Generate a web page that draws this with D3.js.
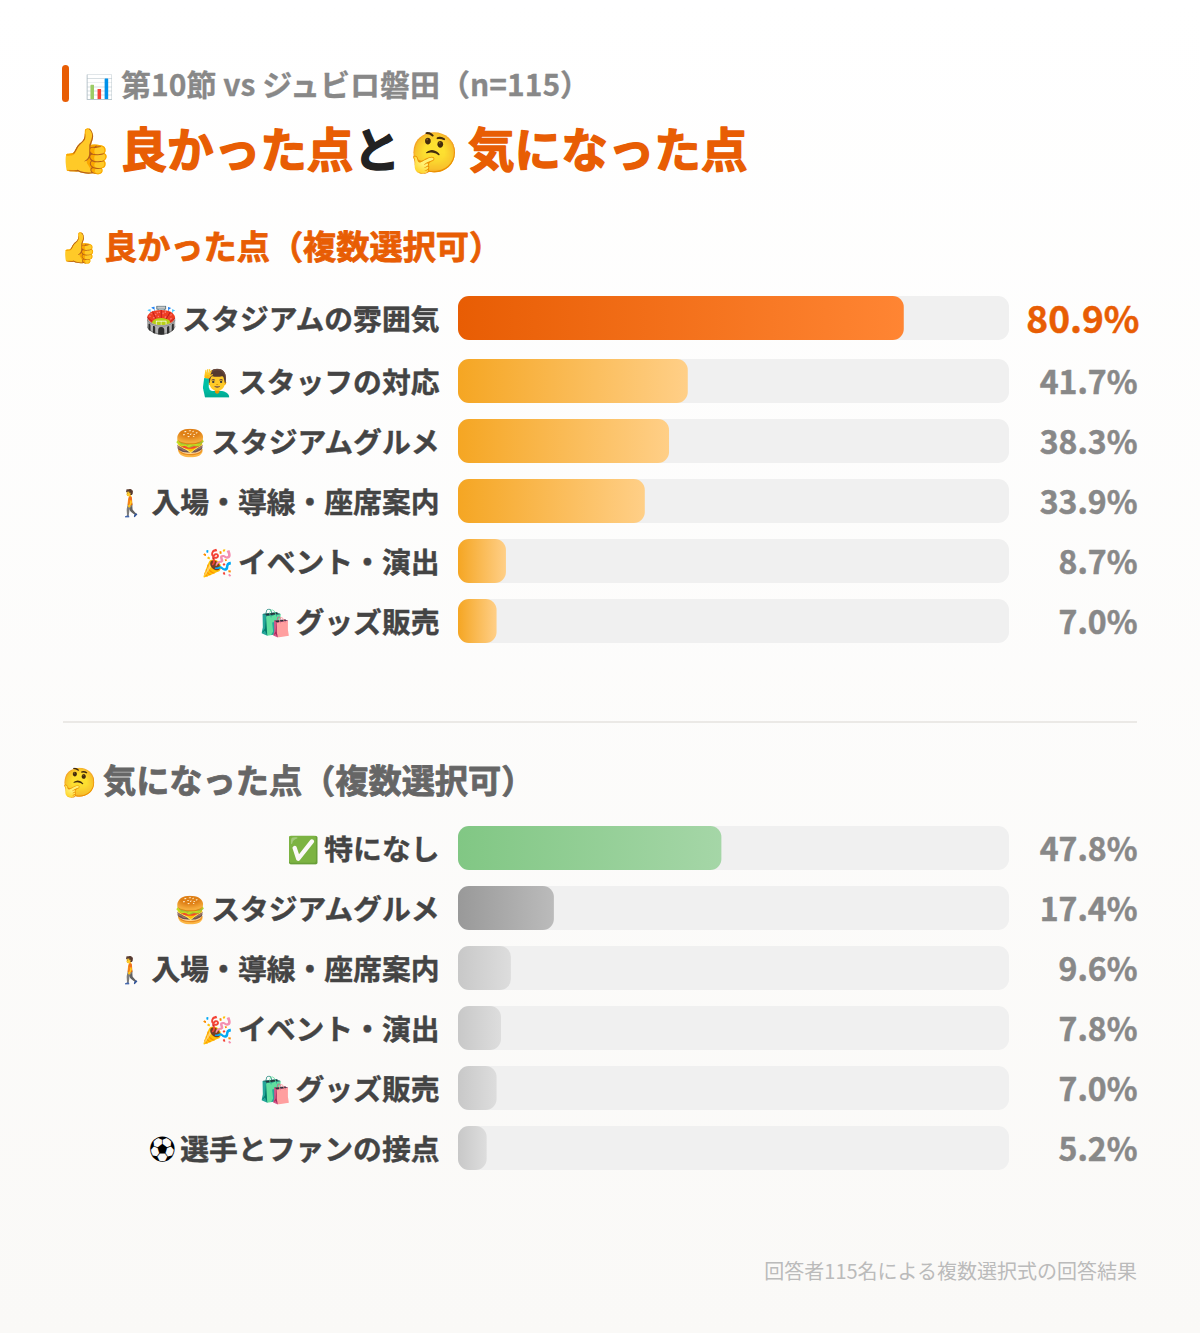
<!DOCTYPE html>
<html lang="ja">
<head>
<meta charset="UTF-8">
<title>良かった点と気になった点</title>
<script src="https://d3js.org/d3.v7.min.js"></script>
<style>
  html, body { margin: 0; padding: 0; background: #fff; }
  svg { display: block; }
  text { font-family: "Noto Sans CJK JP", "Noto Sans", sans-serif; }
  .heavy { paint-order: stroke; stroke-linejoin: round; }
</style>
</head>
<body>
<svg id="chart" width="1200" height="1333"></svg>
<script>
// data
const goodIcons = ["🏟️", "🙋‍♂️", "🍔", "🚶", "🎉", "🛍️"];
const goodLabels = ["スタジアムの雰囲気", "スタッフの対応", "スタジアムグルメ", "入場・導線・座席案内", "イベント・演出", "グッズ販売"];
const goodValues = [80.9, 41.7, 38.3, 33.9, 8.7, 7.0];
const badIcons = ["✅", "🍔", "🚶", "🎉", "🛍️", "⚽"];
const badLabels = ["特になし", "スタジアムグルメ", "入場・導線・座席案内", "イベント・演出", "グッズ販売", "選手とファンの接点"];
const badValues = [47.8, 17.4, 9.6, 7.8, 7.0, 5.2];

const orange = "#e85d04";
const svg = d3.select("#chart");
const defs = svg.append("defs");

function grad(id, c0, c1) {
  const g = defs.append("linearGradient").attr("id", id);
  g.append("stop").attr("offset", "0%").attr("stop-color", c0);
  g.append("stop").attr("offset", "100%").attr("stop-color", c1);
}
grad("gTop", "#e85d04", "#ff8533");
grad("gGood", "#f5a623", "#ffcf87");
grad("gGreen", "#81c784", "#a5d6a7");
grad("gGray", "#999999", "#bbbbbb");
grad("gLight", "#c8c8c8", "#dddddd");
const bg = defs.append("linearGradient").attr("id", "gBg").attr("x2", 0).attr("y2", 1);
bg.append("stop").attr("offset", "0%").attr("stop-color", "#ffffff");
bg.append("stop").attr("offset", "100%").attr("stop-color", "#faf9f7");

svg.append("rect").attr("width", 1200).attr("height", 1333).attr("fill", "url(#gBg)");

// small helper for one run of text
function put(x, y, size, color, str, heavy) {
  const t = svg.append("text").attr("x", x).attr("y", y).attr("font-size", size)
    .attr("font-weight", 700).attr("fill", color).text(str);
  if (heavy) t.attr("class", "heavy").attr("stroke", color).attr("stroke-width", heavy);
  return t;
}

// header
svg.append("rect").attr("x", 62).attr("y", 65).attr("width", 7).attr("height", 37).attr("rx", 3.5).attr("fill", orange);
put(85, 95, 23, "#888", "📊");
put(121, 96, 30, "#888", "第10節 vs ジュビロ磐田（n=115）", 0.3);

put(58, 166, 44, orange, "👍");
const title = put(120.5, 167, 46.6, orange, "良かった点", 1.4);
title.append("tspan").attr("fill", "#222").attr("stroke", "#222").text("と");
put(410, 166, 39, orange, "🤔");
put(468, 167, 46.6, orange, "気になった点", 1.4);

put(60, 258, 30, orange, "👍");
put(104, 259, 33.2, orange, "良かった点（複数選択可）", 0.8);
put(62, 792, 28, "#666", "🤔");
put(103, 793, 33.2, "#666", "気になった点（複数選択可）", 0.8);

svg.append("line").attr("x1", 63).attr("x2", 1137).attr("y1", 722).attr("y2", 722).attr("stroke", "#ebe9e6").attr("stroke-width", 2);

svg.append("text").attr("x", 1137).attr("y", 1279).attr("text-anchor", "end").attr("font-size", 20).attr("fill", "#bbb").text("回答者115名による複数選択式の回答結果");

// bars
const x = d3.scaleLinear().domain([0, 100]).range([458, 1009]);
const barH = 44;

function section(icons, labels, values, top, firstGap, fillFor, valueStyle) {
  const rowY = i => top + i * 60 + (i > 0 ? firstGap : 0);
  const rows = svg.append("g").selectAll("g").data(values).join("g")
    .attr("transform", (d, i) => `translate(0,${rowY(i)})`);
  rows.append("rect").attr("x", x(0)).attr("width", x(100) - x(0)).attr("height", barH).attr("rx", 11).attr("fill", "#f0f0f0");
  rows.append("rect").attr("x", x(0)).attr("width", d => x(d) - x(0)).attr("height", barH).attr("rx", 11).attr("fill", (d, i) => fillFor(i));
  rows.append("text").attr("class", "label heavy").attr("x", 439.5).attr("y", 34).attr("text-anchor", "end")
    .attr("font-size", 28.8).attr("font-weight", 700).attr("fill", "#444").attr("stroke", "#444").attr("stroke-width", 0.4)
    .text((d, i) => labels[i]);
  // icon sits left of the label, so measure the label first
  rows.append("text").attr("y", 33).attr("text-anchor", "end").attr("font-size", 26)
    .attr("x", function(d, i) {
      const w = this.parentNode.querySelector(".label").getComputedTextLength();
      return 439.5 - w - 5;
    })
    .text((d, i) => icons[i]);
  rows.append("text").attr("class", "heavy").attr("text-anchor", "end").attr("font-weight", 700)
    .attr("x", (d, i) => valueStyle(i).x).attr("y", (d, i) => valueStyle(i).y)
    .attr("font-size", (d, i) => valueStyle(i).size).attr("fill", (d, i) => valueStyle(i).color)
    .attr("stroke", (d, i) => valueStyle(i).color).attr("stroke-width", 0.5)
    .text(d => d.toFixed(1) + "%");
}

section(goodIcons, goodLabels, goodValues, 296, 3, i => i === 0 ? "url(#gTop)" : "url(#gGood)",
  i => i === 0 ? {x: 1139.5, y: 37, size: 37, color: orange} : {x: 1137.5, y: 35, size: 32, color: "#888"});
section(badIcons, badLabels, badValues, 826, 0, i => i === 0 ? "url(#gGreen)" : i === 1 ? "url(#gGray)" : "url(#gLight)",
  i => ({x: 1137.5, y: 35, size: 32, color: "#888"}));
</script>
</body>
</html>
